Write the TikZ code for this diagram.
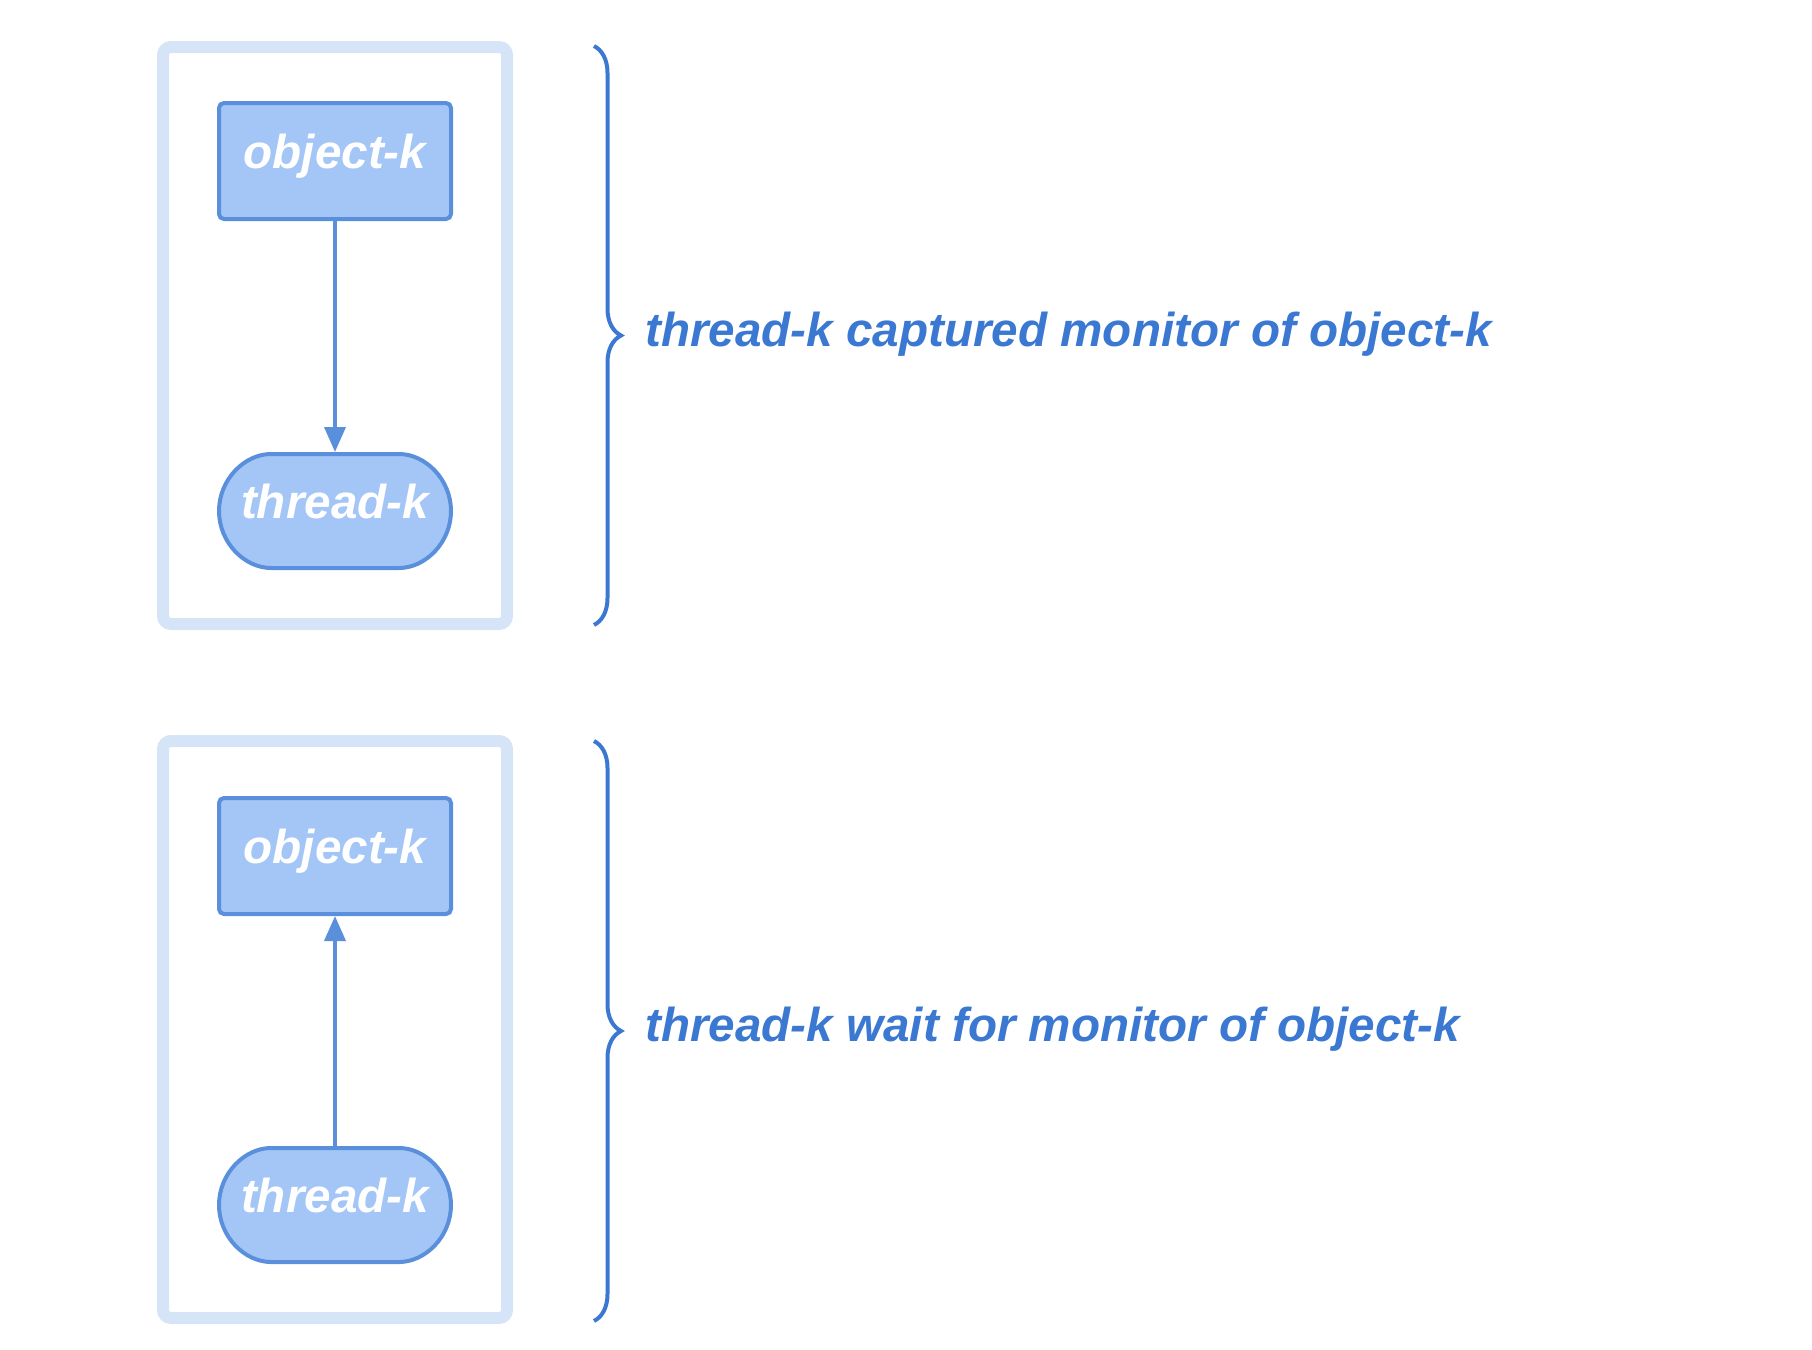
\documentclass[tikz,border=0pt]{standalone}
\usepackage{fontspec}
\setmainfont{Liberation Sans}
\usepackage{tikz}
\usetikzlibrary{arrows.meta, positioning, shapes.misc, decorations.pathreplacing}

\definecolor{framecol}{RGB}{214,228,247}
\definecolor{nodefill}{RGB}{163,198,246}
\definecolor{nodeline}{RGB}{90,143,220}
\definecolor{labelcol}{RGB}{58,120,210}

\tikzset{
  panel/.style={line width=6pt, draw=framecol, rounded corners=4pt},
  objbox/.style={draw=nodeline, fill=nodefill, line width=2pt, rounded corners=2.5pt,
    minimum width=116pt, minimum height=58pt, inner sep=0pt,
    text height=17.5pt, text depth=10pt,
    text=white, font=\fontsize{23.8}{28}\selectfont\bfseries\itshape},
  thrbox/.style={objbox, rounded rectangle, minimum height=57pt},
  link/.style={draw=nodeline, line width=1.9pt, -{Triangle[width=10.5pt,length=12.5pt]}},
  bracket/.style={draw=labelcol, line width=2pt,
    decorate, decoration={brace, amplitude=13.5pt}},
  note/.style={anchor=base west, inner sep=0pt, text=labelcol,
    font=\fontsize{23.8}{28}\selectfont\bfseries\itshape}
}

\begin{document}
\begin{tikzpicture}[x=0.5pt, y=-0.5pt]
\useasboundingbox (0,0) rectangle (1812,1350);

% Top panel: thread holds the monitor
\draw[panel] (163,47) rectangle (507,624);
\node[objbox] (objA) at (335,161) {object-k};
\node[thrbox] (thrA) at (335,511) {thread-k};
\draw[link] (objA.south) -- (thrA.north);
\coordinate (braceAtop) at (594,46);
\coordinate (braceAbot) at (594,625);
\draw[bracket] (braceAtop) -- (braceAbot);
\node[note] (noteA) at (645,346) {thread-k captured monitor of object-k};

% Bottom panel: thread waits for the monitor
\draw[panel] (163,741) rectangle (507,1318);
\node[objbox] (objB) at (335,856) {object-k};
\node[thrbox] (thrB) at (335,1205) {thread-k};
\draw[link] (thrB.north) -- (objB.south);
\coordinate (braceBtop) at (594,741);
\coordinate (braceBbot) at (594,1321);
\draw[bracket] (braceBtop) -- (braceBbot);
\node[note] (noteB) at (645,1041) {thread-k wait for monitor of object-k};
\end{tikzpicture}
\end{document}
